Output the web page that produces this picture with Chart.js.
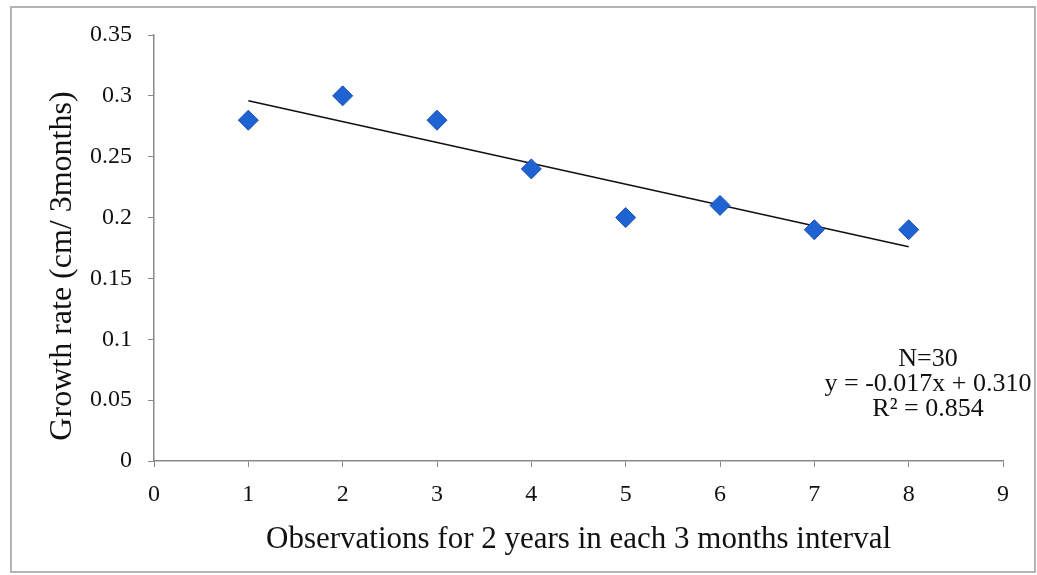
<!DOCTYPE html>
<html>
<head>
<meta charset="utf-8">
<script src="https://cdn.jsdelivr.net/npm/chart.js@4"></script>
<style>
  html, body { margin: 0; padding: 0; background: #fff; }
  #wrap { width: 1037px; height: 575px; position: relative; }
</style>
</head>
<body>
<div id="wrap"><canvas id="growthChart"></canvas></div>
<script>
// observations (3 month intervals) and measured growth rate
const observations = [1, 2, 3, 4, 5, 6, 7, 8];
const growthRates = [0.28, 0.30, 0.28, 0.24, 0.20, 0.21, 0.19, 0.19];

// linear trend line end points as drawn in the figure
const trendX = [1, 8];
const trendY = [0.296, 0.176];

const statsLines = ['N=30', 'y = -0.017x + 0.310', 'R\u00B2 = 0.854'];
const yTitle = 'Growth rate (cm/ 3months)';

const serif = '"Liberation Serif", "DejaVu Serif", serif';

// light frame round the whole figure, y title (sits a bit low in the original) + regression text
const framePlugin = {
    id: 'frame',
    beforeDraw(chart) {
        const ctx = chart.ctx;
        ctx.save();
        ctx.strokeStyle = '#b4b4b4';
        ctx.lineWidth = 2;
        ctx.strokeRect(11, 7, 1024, 565);
        ctx.restore();
    },
    afterDraw(chart) {
        const ctx = chart.ctx;
        ctx.save();
        ctx.fillStyle = '#111';
        ctx.textAlign = 'center';
        ctx.textBaseline = 'middle';

        ctx.font = '26px ' + serif;
        statsLines.forEach((line, i) => {
            ctx.fillText(line, 928, 359 + i * 25);
        });

        ctx.translate(63, 266);
        ctx.rotate(-Math.PI / 2);
        ctx.font = '32px ' + serif;
        ctx.fillText(yTitle, 0, 0);
        ctx.restore();
    }
};

const ctx = document.getElementById('growthChart').getContext('2d');

new Chart(ctx, {
    type: 'scatter',
    data: {
        datasets: [
            {
                label: 'Growth rate',
                data: observations.map((x, i) => ({ x: x, y: growthRates[i] })),
                pointStyle: 'rectRot',
                pointRadius: 10,
                pointHoverRadius: 10,
                backgroundColor: '#1f62d2',
                borderColor: '#1650b4',
                borderWidth: 1
            },
            {
                label: 'Trend',
                data: trendX.map((x, i) => ({ x: x, y: trendY[i] })),
                showLine: true,
                pointRadius: 0,
                borderColor: '#111',
                borderWidth: 1.6,
                fill: false
            }
        ]
    },
    options: {
        responsive: true,
        maintainAspectRatio: false,
        animation: false,
        layout: {
            padding: { left: 45, right: 34, top: 35, bottom: 17 }
        },
        plugins: {
            legend: { display: false },
            tooltip: { enabled: false }
        },
        scales: {
            x: {
                type: 'linear',
                min: 0,
                max: 9,
                afterFit: scale => { scale.height = 97; },
                ticks: {
                    stepSize: 1,
                    color: '#111',
                    padding: 13,
                    font: { family: serif, size: 24 }
                },
                grid: {
                    drawOnChartArea: false,
                    drawTicks: true,
                    tickLength: 6,
                    color: '#8a8a8a'
                },
                border: { color: '#8a8a8a', width: 1.5 },
                title: {
                    display: true,
                    text: 'Observations for 2 years in each 3 months interval',
                    color: '#111',
                    padding: { top: 4, bottom: 0 },
                    font: { family: serif, size: 31 }
                }
            },
            y: {
                min: 0,
                max: 0.35,
                afterFit: scale => { scale.width = 109; },
                ticks: {
                    stepSize: 0.05,
                    color: '#111',
                    padding: 16,
                    font: { family: serif, size: 24 },
                    callback: v => Math.round(v * 100) / 100
                },
                grid: {
                    drawOnChartArea: false,
                    drawTicks: true,
                    tickLength: 6,
                    color: '#8a8a8a'
                },
                border: { color: '#8a8a8a', width: 1.5 },
                title: { display: false }
            }
        }
    },
    plugins: [framePlugin]
});
</script>
</body>
</html>
